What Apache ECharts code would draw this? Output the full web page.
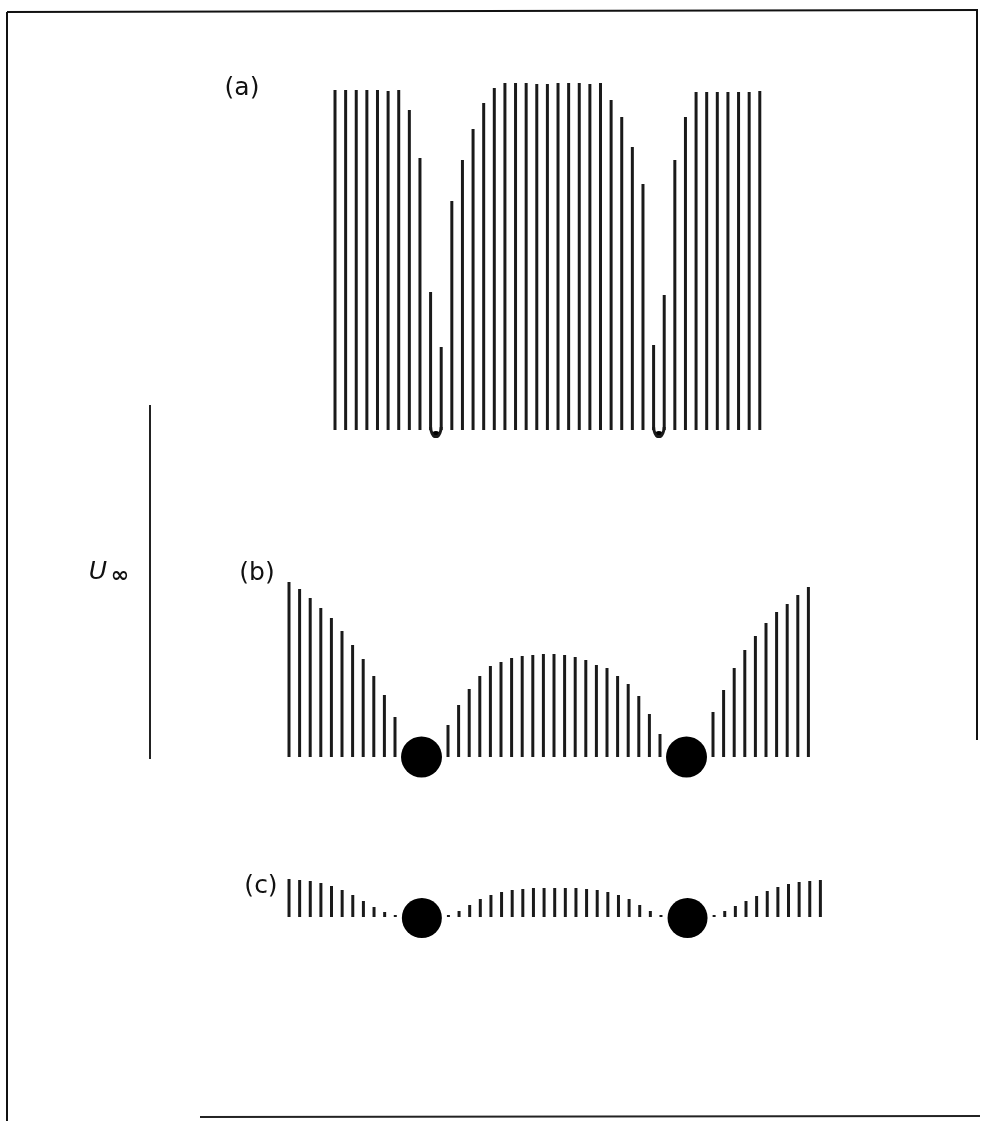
<!DOCTYPE html>
<html>
<head>
<meta charset="utf-8">
<style>
  html, body { margin: 0; padding: 0; background: #ffffff; }
  #chart { width: 989px; height: 1121px; }
</style>
<script src="https://cdn.jsdelivr.net/npm/echarts@6/dist/echarts.min.js"></script>
</head>
<body>
<div id="chart"></div>
<script>
// ---------- DATA ----------
// Panel (a): line heights (41 lines), two U-shaped loops between lines
const panelA_values = [340, 340, 340, 340, 340, 339, 340, 320, 272, 138, 83,
  229, 270, 301, 327, 342, 347, 347, 347, 346, 346, 347, 347, 347, 346, 347,
  330, 313, 283, 246, 85, 135, 270, 313, 338, 338, 338, 338, 338, 338, 339];
const panelA_loops = [9.5, 30.5];

// Panel (b): line heights (50 positions, null where a sphere sits)
const panelB_values = [175, 168, 159, 149, 139, 126, 112, 98, 81, 62, 40,
  null, null, null, null,
  32, 52, 68, 81, 91, 95, 99, 101, 102, 103, 103, 102, 100, 97, 92, 89, 81, 73, 61, 43, 23,
  null, null, null, null,
  45, 67, 89, 107, 121, 134, 145, 153, 162, 170];
const panelB_spheres = [12.5, 37.5];

// Panel (c): line heights (51 positions, null where a sphere sits)
const panelC_values = [38, 37, 36, 34, 31, 27, 22, 16, 10, 5, 2,
  null, null, null, null,
  2, 6, 12, 18, 22, 25, 27, 28, 29, 29, 29, 29, 29, 28, 27, 25, 22, 18, 12, 6, 2,
  null, null, null, null,
  2, 6, 11, 16, 21, 26, 30, 33, 35, 36, 37];
const panelC_spheres = [12.5, 37.5];

// Labels
const panelLabels = ['(a)', '(b)', '(c)'];
const axisLabelMain = 'U';
const axisLabelSub = '∞';

// ---------- BUILD ----------
const INK = '#1a1a1a';
const toPairs = arr => arr.map((v, i) => v == null ? null : [i, v]).filter(p => p);

function loopPoints(c) {
  return [[c - 0.5, 3], [c - 0.38, -3], [c, -6.5], [c + 0.38, -3], [c + 0.5, 3]];
}

const chart = echarts.init(document.getElementById('chart'));

const grids = [
  { left: 329.7, top: 80, width: 435.4, height: 370 },   // a: baseline y=430
  { left: 283.7, top: 577, width: 530, height: 210 },    // b: baseline y=757
  { left: 283.7, top: 867, width: 542, height: 80 }      // c: baseline y=917
];

const xAxes = [
  { gridIndex: 0, type: 'value', min: -0.5, max: 40.5, show: false },
  { gridIndex: 1, type: 'value', min: -0.5, max: 49.5, show: false },
  { gridIndex: 2, type: 'value', min: -0.5, max: 50.5, show: false }
];
const yAxes = [
  { gridIndex: 0, type: 'value', min: -20, max: 350, show: false },
  { gridIndex: 1, type: 'value', min: -30, max: 180, show: false },
  { gridIndex: 2, type: 'value', min: -30, max: 50, show: false }
];

const series = [];
function addBars(idx, values) {
  series.push({
    type: 'bar', xAxisIndex: idx, yAxisIndex: idx,
    data: toPairs(values), barWidth: 3,
    itemStyle: { color: INK }, silent: true
  });
}
addBars(0, panelA_values);
addBars(1, panelB_values);
addBars(2, panelC_values);

panelA_loops.forEach(c => {
  series.push({
    type: 'line', xAxisIndex: 0, yAxisIndex: 0, smooth: 0.6,
    data: loopPoints(c), symbol: 'none', clip: false,
    lineStyle: { color: INK, width: 3 }, silent: true
  });
  series.push({
    type: 'scatter', xAxisIndex: 0, yAxisIndex: 0, clip: false,
    data: [[c, -4.5]], symbol: 'circle', symbolSize: [8, 7],
    itemStyle: { color: '#000', opacity: 1 }, silent: true
  });
});

series.push({
  type: 'scatter', xAxisIndex: 1, yAxisIndex: 1, clip: false,
  data: panelB_spheres.map(c => [c, 0]), symbol: 'circle', symbolSize: 41,
  itemStyle: { color: '#000', opacity: 1 }, silent: true
});
series.push({
  type: 'scatter', xAxisIndex: 2, yAxisIndex: 2, clip: false,
  data: panelC_spheres.map(c => [c, -1]), symbol: 'circle', symbolSize: 40,
  itemStyle: { color: '#000', opacity: 1 }, silent: true
});

const labelFont = '25px "DejaVu Sans", sans-serif';
const graphic = [
  // frame
  { type: 'line', shape: { x1: 7, y1: 12, x2: 7, y2: 1121 }, style: { stroke: '#111', lineWidth: 2 } },
  { type: 'line', shape: { x1: 7, y1: 12, x2: 978, y2: 10 }, style: { stroke: '#111', lineWidth: 2 } },
  { type: 'line', shape: { x1: 977, y1: 10, x2: 977, y2: 740 }, style: { stroke: '#111', lineWidth: 2 } },
  { type: 'line', shape: { x1: 200, y1: 1117, x2: 980, y2: 1116 }, style: { stroke: '#222', lineWidth: 2 } },
  // U-infinity scale bar
  { type: 'line', shape: { x1: 150, y1: 405, x2: 150, y2: 759 }, style: { stroke: '#222', lineWidth: 2 } },
  { type: 'text', x: 98, y: 572, style: { text: axisLabelMain, font: 'italic 25px "DejaVu Sans", sans-serif', fill: '#111', textAlign: 'center', textVerticalAlign: 'middle' } },
  { type: 'text', x: 120, y: 576, style: { text: axisLabelSub, font: 'bold 22px "DejaVu Sans", sans-serif', fill: '#111', textAlign: 'center', textVerticalAlign: 'middle' } },
  // panel labels
  { type: 'text', x: 242, y: 88, style: { text: panelLabels[0], font: labelFont, fill: '#111', textAlign: 'center', textVerticalAlign: 'middle' } },
  { type: 'text', x: 257, y: 573, style: { text: panelLabels[1], font: labelFont, fill: '#111', textAlign: 'center', textVerticalAlign: 'middle' } },
  { type: 'text', x: 261, y: 886, style: { text: panelLabels[2], font: labelFont, fill: '#111', textAlign: 'center', textVerticalAlign: 'middle' } }
];

chart.setOption({
  backgroundColor: '#ffffff',
  animation: false,
  grid: grids,
  xAxis: xAxes,
  yAxis: yAxes,
  series: series,
  graphic: graphic
});
</script>
</body>
</html>
